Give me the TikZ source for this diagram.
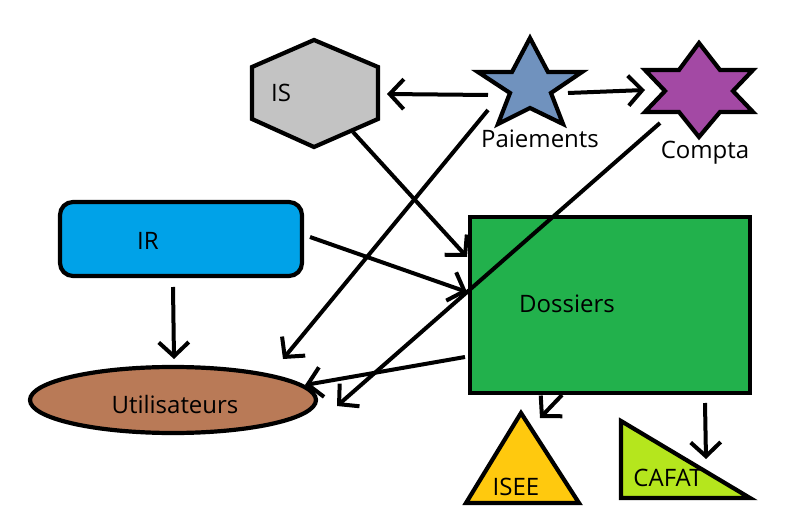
\documentclass[tikz,border=0pt]{standalone}
\usepackage{fontspec}
\setmainfont{Open Sans}
\usetikzlibrary{arrows.meta,shapes.geometric}
\definecolor{isgray}{HTML}{C3C3C3}
\definecolor{paiblue}{HTML}{7092BE}
\definecolor{comptapurple}{HTML}{A349A4}
\definecolor{irblue}{HTML}{00A2E8}
\definecolor{userbrown}{HTML}{B97A57}
\definecolor{dossgreen}{HTML}{22B14C}
\definecolor{iseeyellow}{HTML}{FFC90E}
\definecolor{cafatgreen}{HTML}{B5E61D}
\tikzset{
  shapeline/.style={draw=black,line width=4.2pt,line join=miter},
  conn/.style={draw=black,line width=4pt,-{Straight Barb[length=14pt,width=30pt]}},
  lbl/.style={font=\fontsize{24}{28}\selectfont,inner sep=0pt,text=black}
}
\begin{document}
\begin{tikzpicture}[x=1pt,y=-1pt]
\useasboundingbox (0,0) rectangle (804,532);
\fill[white] (0,0) rectangle (804,532);
% IS hexagon
\draw[shapeline,fill=isgray] (314,40) -- (378,67) -- (378,119) -- (314,147) -- (252,119) -- (252,67) -- cycle;
\node[lbl] (is) at (281,93) {IS};
% Paiements star
\draw[shapeline,fill=paiblue] (530,38)--(548,72)--(582,72)--(551,93)--(563,124)--(530,108)--(498,124)--(510,93)--(478,72)--(512,72)--cycle;
\node[lbl] (pai) at (540,139) {Paiements};
% Compta star
\draw[shapeline,fill=comptapurple] (699,43)--(720,70)--(753,70)--(733,91)--(753,112)--(720,112)--(699,137)--(679,112)--(645,112)--(665,91)--(645,70)--(679,70)--cycle;
\node[lbl] (compta) at (705,153) {Compta};
% IR
\draw[shapeline,fill=irblue,rounded corners=13pt] (60,202) rectangle (302,276);
\node[lbl] (ir) at (148,241) {IR};
% Utilisateurs
\node[shapeline,fill=userbrown,ellipse,minimum width=286pt,minimum height=66pt,inner sep=0pt] (userbox) at (173,400) {};
\node[lbl] (user) at (175,404) {Utilisateurs};
% Dossiers
\node[shapeline,fill=dossgreen,rectangle,minimum width=280pt,minimum height=176pt,inner sep=0pt] (dossbox) at (610,305) {};
\node[lbl] (doss) at (567,304) {Dossiers};
% ISEE
\draw[shapeline,fill=iseeyellow] (521,413) -- (579,503) -- (466,503) -- cycle;
\node[lbl] (isee) at (516,487) {ISEE};
% CAFAT
\fill[cafatgreen] (621,421) -- (750,498) -- (621,498) -- cycle;
\node[lbl] (cafat) at (668,478) {CAFAT};
\draw[shapeline] (621,421) -- (750,498) -- (621,498) -- cycle;
% connector endpoints
\coordinate (a1s) at (488,95);  \coordinate (a1e) at (387,94);
\coordinate (a2s) at (568,93);  \coordinate (a2e) at (645,90);
\coordinate (a3s) at (488,110); \coordinate (a3e) at (283,359);
\coordinate (a4s) at (660,123); \coordinate (a4e) at (337,406);
\coordinate (a5s) at (353,132); \coordinate (a5e) at (467,257);
\coordinate (a6s) at (310,237); \coordinate (a6e) at (467,292);
\coordinate (a7s) at (173,287); \coordinate (a7e) at (174,359);
\coordinate (a8s) at (465,357); \coordinate (a8e) at (305,385);
\coordinate (a9s) at (562,395); \coordinate (a9e) at (540,418);
\coordinate (a10s) at (705,403); \coordinate (a10e) at (706,459);
\draw[conn] (a1s) -- (a1e);
\draw[conn] (a2s) -- (a2e);
\draw[conn] (a3s) -- (a3e);
\draw[conn] (a4s) -- (a4e);
\draw[conn] (a5s) -- (a5e);
\draw[conn] (a6s) -- (a6e);
\draw[conn] (a7s) -- (a7e);
\draw[conn] (a8s) -- (a8e);
\draw[conn] (a9s) -- (a9e);
\draw[conn] (a10s) -- (a10e);
\end{tikzpicture}
\end{document}
